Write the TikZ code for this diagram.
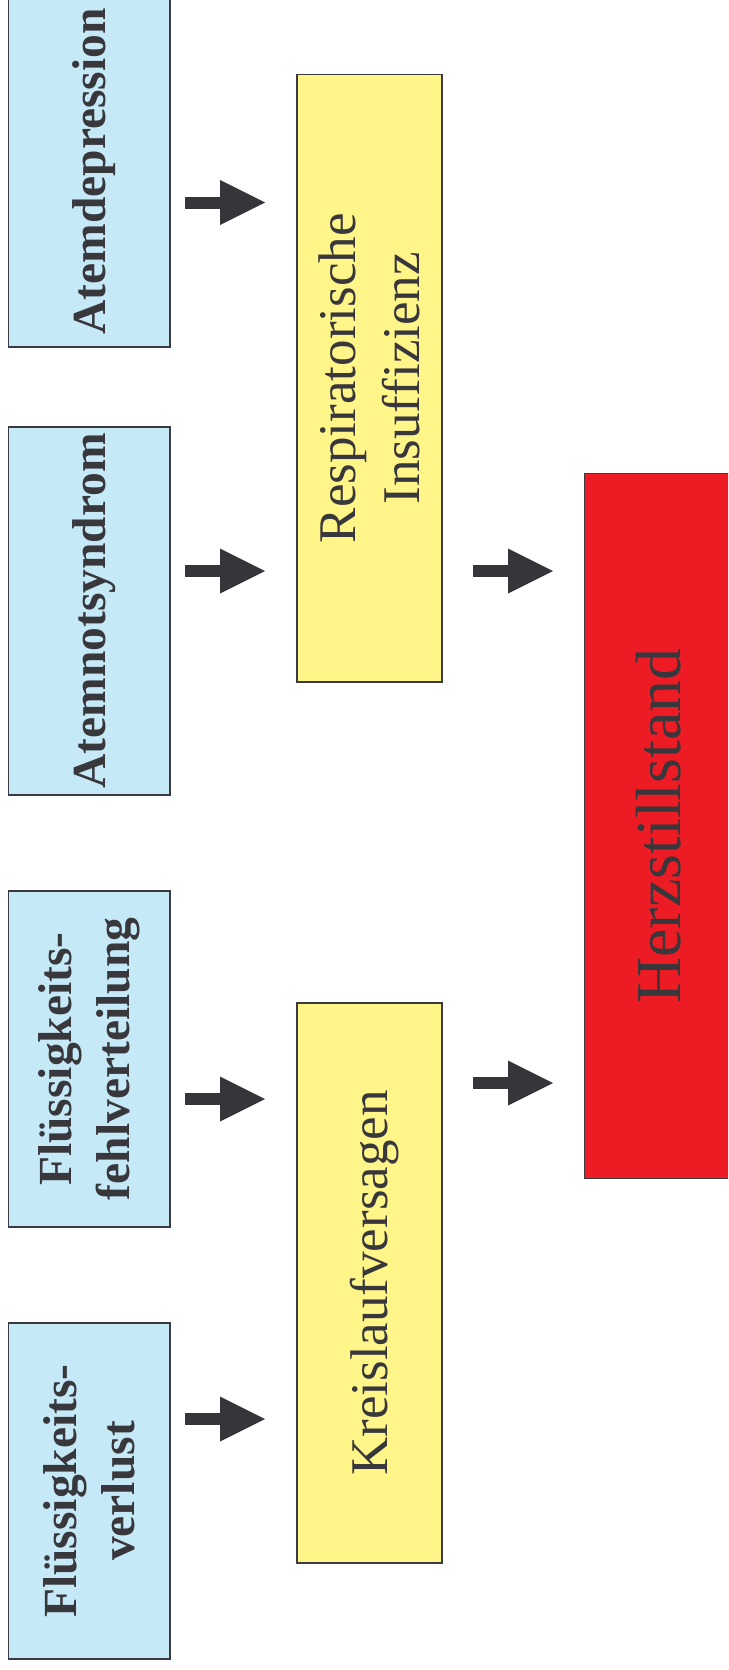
\documentclass[tikz,border=0pt]{standalone}
\usepackage{fontspec}
\setmainfont{Liberation Serif}
\usetikzlibrary{arrows.meta}
\definecolor{txt}{HTML}{38373C}
\definecolor{bord}{HTML}{3C3B40}
\definecolor{arr}{HTML}{36353A}
\definecolor{cblue}{HTML}{C6E9F8}
\definecolor{cyellow}{HTML}{FFF588}
\definecolor{cred}{HTML}{ED1C24}
\tikzset{
  basebox/.style={draw=bord, line width=1.2pt, rotate=90, inner sep=0pt, align=center, text=txt},
  bluebox/.style={basebox, fill=cblue, minimum height=161.5pt, font=\bfseries\fontsize{47.5}{58}\selectfont},
  yellowbox/.style={basebox, fill=cyellow, minimum height=145pt, font=\fontsize{53}{64.7}\selectfont},
  redbox/.style={basebox, draw=none, fill=cred, minimum height=180pt, font=\fontsize{64}{77}\selectfont},
  edge/.style={draw=bord, line width=1.2pt},
  oneline/.style={text height=#1, text depth=0pt},
  bigarrow/.style={draw=arr, line width=12pt, -{Triangle[length=45pt,width=45pt,line width=0pt]}}
}
\begin{document}
\begin{tikzpicture}[x=1pt,y=-1pt]
\useasboundingbox (0,0) rectangle (728,1670);
\clip (0,0) rectangle (728,1670);
\fill[white] (0,0) rectangle (728,1670);
% blue boxes
\node[bluebox, oneline=32pt, minimum width=351pt] (atd) at (89.25,171.5) {Atemdepression};
\node[bluebox, oneline=32pt, minimum width=368pt] (ans) at (89.25,611) {Atemnotsyndrom};
\node[bluebox, minimum width=336pt] (ffv) at (89.25,1059) {Flüssigkeits-\\fehlverteilung};
\node[bluebox, minimum width=336pt] (fvl) at (89.25,1491) {Flüssigkeits-\\verlust};
% yellow boxes
\node[yellowbox, minimum width=607.5pt] (resp) at (369.5,378.25) {Respiratorische\\Insuffizienz};
\node[yellowbox, oneline=35pt, minimum width=560pt] (kreis) at (369.5,1283) {Kreislaufversagen};
% red box (runs past the right edge)
\node[redbox, text height=42.4pt, text depth=31pt, minimum width=704pt] (herz) at (675,826) {Herzstillstand};
\draw[edge] (herz.south east) -- (herz.north east) -- (herz.north west) -- (herz.south west);
% arrows
\coordinate (l1a) at (185,202.5); \coordinate (l1b) at (265,202.5);
\coordinate (l2a) at (185,571);   \coordinate (l2b) at (265,571);
\coordinate (l3a) at (185,1099);  \coordinate (l3b) at (265,1099);
\coordinate (l4a) at (185,1419);  \coordinate (l4b) at (265,1419);
\coordinate (r1a) at (473,571);   \coordinate (r1b) at (553,571);
\coordinate (r2a) at (473,1083);  \coordinate (r2b) at (553,1083);
\draw[bigarrow] (l1a) -- (l1b);
\draw[bigarrow] (l2a) -- (l2b);
\draw[bigarrow] (l3a) -- (l3b);
\draw[bigarrow] (l4a) -- (l4b);
\draw[bigarrow] (r1a) -- (r1b);
\draw[bigarrow] (r2a) -- (r2b);
\end{tikzpicture}
\end{document}
